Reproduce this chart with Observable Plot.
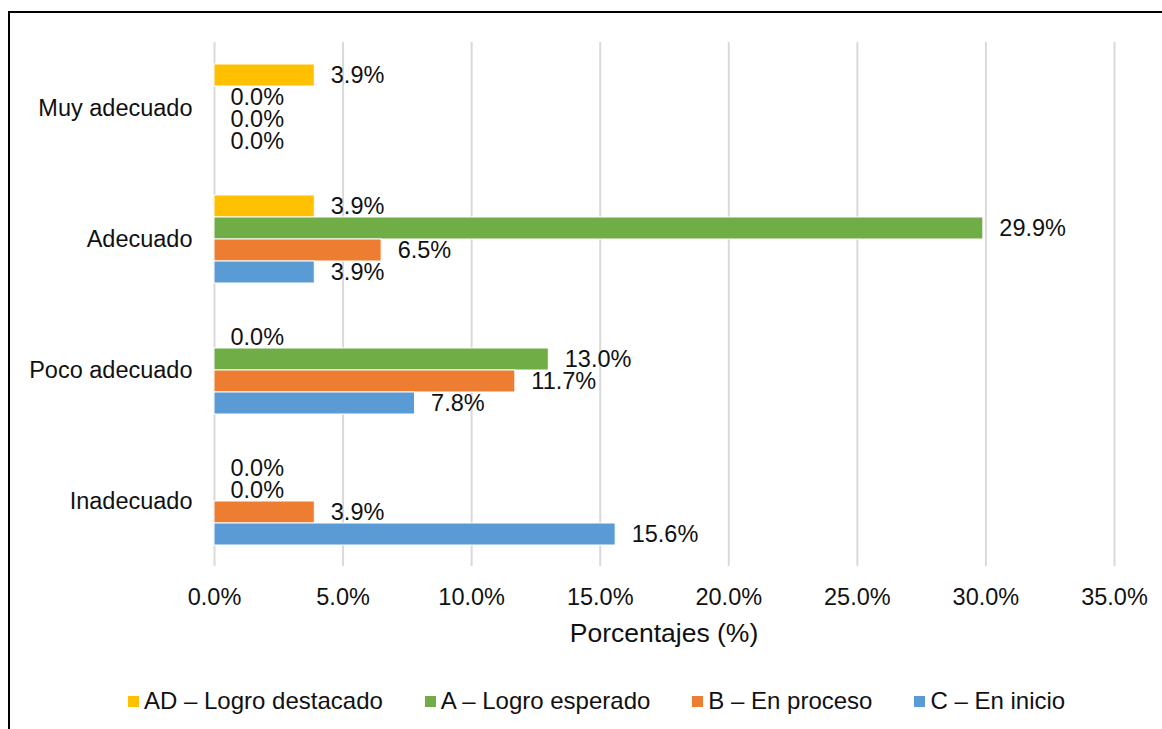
<!DOCTYPE html>
<html>
<head>
<meta charset="utf-8">
<script src="https://cdn.jsdelivr.net/npm/d3@7"></script>
<script src="https://cdn.jsdelivr.net/npm/@observablehq/plot@0.6"></script>
<style>
  html, body { margin: 0; padding: 0; background: #fff; overflow: hidden; }
  body { width: 1162px; height: 729px; position: relative; font-family: "Liberation Sans", Arial, sans-serif; color: #111; }
  #frame { position: absolute; left: 8px; top: 11px; width: 1300px; height: 800px; border-left: 2px solid #000; border-top: 2px solid #000; }
  #chart { position: absolute; left: 0; top: 0; }
  #xtitle { position: absolute; left: 0; width: 1328px; top: 618px; text-align: center; font-size: 26.5px; line-height: 30px; }
  #legend { position: absolute; left: 128px; top: 687px; display: flex; gap: 42px; font-size: 24px; line-height: 28px; white-space: nowrap; }
  #legend .item { display: flex; align-items: center; }
  #legend .sw { width: 11px; height: 11px; margin-right: 5px; }
</style>
</head>
<body>
<div id="frame"></div>
<div id="chart"></div>
<div id="xtitle">Porcentajes (%)</div>
<div id="legend"></div>
<script>
const categories = ["Muy adecuado", "Adecuado", "Poco adecuado", "Inadecuado"];
const series = ["AD – Logro destacado", "A – Logro esperado", "B – En proceso", "C – En inicio"];
const colors = ["#FFC000", "#70AD47", "#ED7D31", "#5B9BD5"];
const valuesAD = [3.9, 3.9, 0.0, 0.0];
const valuesA  = [0.0, 29.9, 13.0, 0.0];
const valuesB  = [0.0, 6.5, 11.7, 3.9];
const valuesC  = [0.0, 3.9, 7.8, 15.6];
const xTicks = [0, 5, 10, 15, 20, 25, 30, 35];

const seriesValues = [valuesAD, valuesA, valuesB, valuesC];
const data = [];
categories.forEach((c, i) => {
  series.forEach((s, j) => {
    data.push({category: c, series: s, value: seriesValues[j][i]});
  });
});

const font = "'Liberation Sans', Arial, sans-serif";

const chart = Plot.plot({
  width: 1162,
  height: 660,
  marginLeft: 214,
  marginRight: 48,
  marginTop: 41,
  marginBottom: 93,
  style: { fontFamily: font, fontSize: "23.5px", color: "#111", background: "transparent" },
  x: { domain: [0, 35], ticks: xTicks, tickFormat: d => d.toFixed(1) + "%", tickSize: 0, tickPadding: 22, label: null },
  y: { domain: series, paddingInner: 0, paddingOuter: 0.86, axis: null },
  fy: { domain: categories, padding: 0, label: null, tickSize: 0, tickPadding: 22 },
  color: { domain: series, range: colors },
  marks: [
    Plot.gridX(xTicks, { stroke: "#d9d9d9", strokeOpacity: 1, strokeWidth: 2 }),
    Plot.barX(data, { x: "value", y: "series", fy: "category", fill: "series", stroke: "#fff", strokeWidth: 1 }),
    Plot.text(data, { x: "value", y: "series", fy: "category", text: d => d.value.toFixed(1) + "%", textAnchor: "start", dx: 16, fill: "#111" })
  ]
});
document.getElementById("chart").appendChild(chart);

const legend = document.getElementById("legend");
series.forEach((s, j) => {
  const item = document.createElement("div");
  item.className = "item";
  const sw = document.createElement("span");
  sw.className = "sw";
  sw.style.background = colors[j];
  const t = document.createElement("span");
  t.textContent = s;
  item.appendChild(sw);
  item.appendChild(t);
  legend.appendChild(item);
});
</script>
</body>
</html>
